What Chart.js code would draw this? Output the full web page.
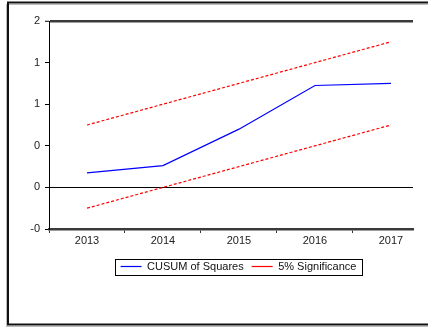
<!DOCTYPE html>
<html>
<head>
<meta charset="utf-8">
<script src="https://cdn.jsdelivr.net/npm/chart.js@4/dist/chart.umd.min.js"></script>
<style>
html,body{margin:0;padding:0;background:#fff;overflow:hidden;}
canvas{display:block;}
</style>
</head>
<body>
<canvas id="c" width="428" height="329"></canvas>
<script>
// ---- data ----
const categories = [2013, 2014, 2015, 2016, 2017];
const cusumSquares = [0.14, 0.21, 0.56, 0.98, 1.00];
const upperBound = [0.60, 0.80, 1.00, 1.20, 1.40];
const lowerBound = [-0.20, 0.00, 0.20, 0.40, 0.60];
const yTickValues = [-0.4, 0, 0.4, 0.8, 1.2, 1.6];
const yTickLabels = ['-0', '0', '0', '1', '1', '2'];
const seriesNames = ['CUSUM of Squares', '5% Significance'];

const toPoints = arr => arr.map((v, i) => ({x: categories[i], y: v}));

Chart.defaults.font.family = '"Liberation Sans", Arial, Helvetica, sans-serif';
Chart.defaults.font.size = 11;
Chart.defaults.color = '#222';

const framePlugin = {
  id: 'frame',
  afterLayout(chart) {
    // centre the legend under the region right of the y axis
    const lg = chart.legend;
    if (!lg) return;
    const target = (chart.chartArea.left + chart.width) / 2;
    const shift = target - (lg.left + lg.right) / 2;
    lg.left += shift;
    lg.right += shift;
  },
  beforeDraw(chart) {
    const ctx = chart.ctx;
    ctx.save();
    ctx.fillStyle = '#fff';
    ctx.fillRect(0, 0, chart.width, chart.height);
    ctx.strokeStyle = '#bbb';
    ctx.lineWidth = 1;
    ctx.strokeRect(6.5, 4.5, chart.width + 20, 322);
    ctx.strokeStyle = '#111';
    ctx.lineWidth = 2;
    ctx.strokeRect(8, 2.5, chart.width + 20, 322);
    ctx.restore();
  },
  afterDraw(chart) {
    const lg = chart.legend;
    if (!lg || !lg.legendHitBoxes || !lg.legendHitBoxes.length) return;
    const hb = lg.legendHitBoxes;
    let l = Infinity, r = -Infinity, t = Infinity, b = -Infinity;
    hb.forEach(h => {
      l = Math.min(l, h.left); r = Math.max(r, h.left + h.width);
      t = Math.min(t, h.top); b = Math.max(b, h.top + h.height);
    });
    const ctx = chart.ctx;
    ctx.save();
    ctx.strokeStyle = '#000';
    ctx.lineWidth = 1;
    ctx.strokeRect(Math.round(l - 6) + 0.5, Math.round(t - 2.5) + 0.5, Math.round(r - l + 11), Math.round(b - t + 5));
    ctx.restore();
  }
};

new Chart(document.getElementById('c'), {
  type: 'line',
  data: {
    datasets: [
      {label: seriesNames[0], data: toPoints(cusumSquares), borderColor: '#0000ff', borderWidth: 1.2, pointRadius: 0, tension: 0, fill: false},
      {label: seriesNames[1], data: toPoints(upperBound), borderColor: '#ff0000', borderWidth: 1.2, borderDash: [3, 2], pointRadius: 0, tension: 0, fill: false},
      {label: seriesNames[1], data: toPoints(lowerBound), borderColor: '#ff0000', borderWidth: 1.2, borderDash: [3, 2], pointRadius: 0, tension: 0, fill: false}
    ]
  },
  options: {
    responsive: false,
    animation: false,
    events: [],
    layout: {padding: {left: 0, right: 15, top: 21, bottom: 47}},
    plugins: {
      tooltip: {enabled: false},
      legend: {
        position: 'bottom',
        labels: {
          usePointStyle: true,
          pointStyle: 'line',
          pointStyleWidth: 21,
          padding: 8,
          color: '#111',
          font: {size: 11},
          filter: item => item.datasetIndex !== 2
        }
      }
    },
    scales: {
      x: {
        type: 'linear',
        min: categories[0] - 0.5,
        max: categories[categories.length - 1] + 0.29,
        afterBuildTicks: scale => {
          const t = [];
          categories.forEach(c => { t.push({value: c - 0.5}); t.push({value: c}); });
          scale.ticks = t;
        },
        afterFit: scale => { scale.height = 24; },
        ticks: {
          autoSkip: false,
          maxRotation: 0,
          padding: 1,
          color: '#222',
          callback: v => (Number.isInteger(v) ? String(v) : '')
        },
        grid: {
          drawOnChartArea: false,
          drawTicks: true,
          tickLength: 4,
          color: ctx => (ctx.tick && !Number.isInteger(ctx.tick.value) ? '#333' : 'rgba(0,0,0,0)'),
          tickWidth: 1
        },
        border: {display: true, color: '#3a3a3a', width: 2.5}
      },
      y: {
        type: 'linear',
        position: 'left',
        min: yTickValues[0],
        max: yTickValues[yTickValues.length - 1],
        afterBuildTicks: scale => { scale.ticks = yTickValues.map(v => ({value: v})); },
        afterFit: scale => { scale.width = 49; },
        ticks: {
          autoSkip: false,
          padding: 5,
          color: '#222',
          callback: (v, i) => yTickLabels[i]
        },
        grid: {
          drawTicks: true,
          tickLength: 4,
          tickColor: '#000',
          tickWidth: 1,
          color: ctx => {
            if (!ctx.tick) return 'rgba(0,0,0,0)';
            if (ctx.tick.value === 0) return '#000';
            if (ctx.tick.value === yTickValues[yTickValues.length - 1]) return '#3a3a3a';
            return 'rgba(0,0,0,0)';
          },
          lineWidth: ctx => (ctx.tick && ctx.tick.value === yTickValues[yTickValues.length - 1] ? 2.5 : 1)
        },
        border: {display: true, color: '#000', width: 1}
      }
    }
  },
  plugins: [framePlugin]
});
</script>
</body>
</html>
